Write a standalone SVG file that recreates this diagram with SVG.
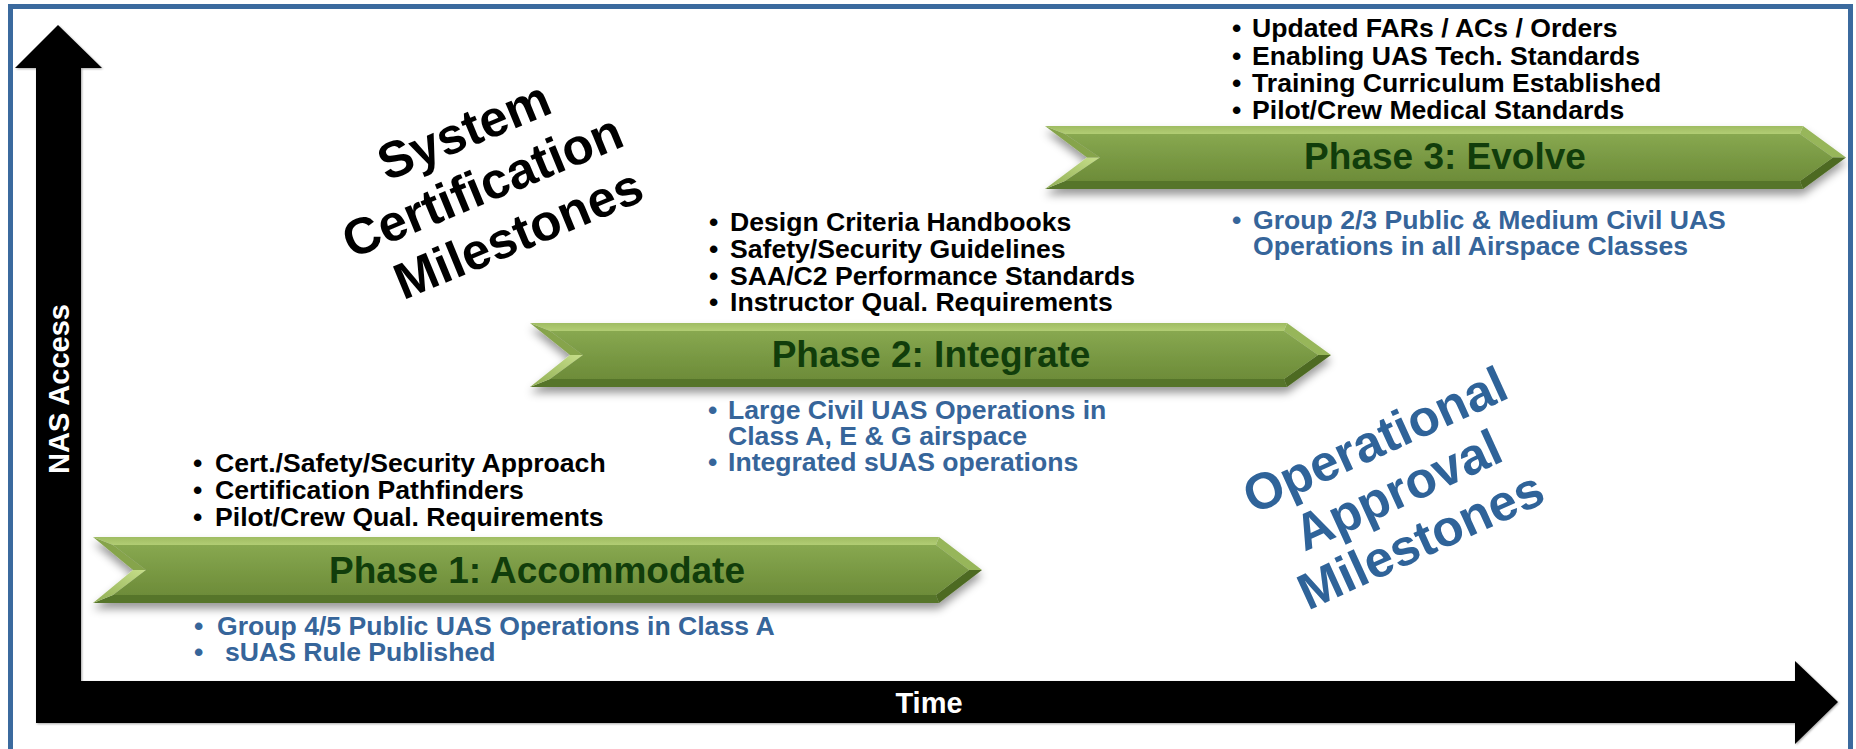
<svg xmlns="http://www.w3.org/2000/svg" width="1856" height="749" viewBox="0 0 1856 749">
<defs>
<style>
.blk{font-family:"Liberation Sans",Arial,sans-serif;font-weight:bold;font-size:26.6px;fill:#000}
.blu{font-family:"Liberation Sans",Arial,sans-serif;font-weight:bold;font-size:26.6px;fill:#36659a}
.ph{font-family:"Liberation Sans",Arial,sans-serif;font-weight:bold;font-size:37px;fill:#113d0b;text-anchor:middle}
.big{font-family:"Liberation Sans",Arial,sans-serif;font-weight:bold;font-size:51px;text-anchor:middle}
.ax{font-family:"Liberation Sans",Arial,sans-serif;font-weight:bold;font-size:29px;fill:#fff;text-anchor:middle}
.face{fill:url(#gFace)}
.bt{fill:url(#gTop)}
.bb{fill:#56752a}
.bru{fill:#97b65a}
.brd{fill:#4d6a22}
.bld{fill:url(#gLD)}
.blu2{fill:#86a44c}
</style>
<linearGradient id="gFace" x1="0" y1="0" x2="0" y2="1">
<stop offset="0" stop-color="#88a850"/>
<stop offset="0.45" stop-color="#7b9b45"/>
<stop offset="1" stop-color="#6d8c39"/>
</linearGradient>
<linearGradient id="gTop" x1="0" y1="0" x2="0" y2="1">
<stop offset="0" stop-color="#9fbc62"/>
<stop offset="1" stop-color="#b2cd74"/>
</linearGradient>
<linearGradient id="gLD" x1="1" y1="0" x2="0" y2="1">
<stop offset="0" stop-color="#c6de8a"/>
<stop offset="1" stop-color="#8fad52"/>
</linearGradient>
<filter id="sh" x="-5%" y="-30%" width="110%" height="170%">
<feDropShadow dx="0" dy="6" stdDeviation="4" flood-color="#000" flood-opacity="0.4"/>
</filter>
<filter id="ash" x="-5%" y="-5%" width="110%" height="110%">
<feDropShadow dx="1" dy="1" stdDeviation="0.8" flood-color="#000" flood-opacity="0.35"/>
</filter>
</defs>
<rect width="1856" height="749" fill="#fff"/>
<path d="M10.5,760 V6.5 H1850.5 V760" fill="none" stroke="#3b6a9e" stroke-width="5"/>

<g id="axes" filter="url(#ash)">
<polygon points="36,722 36,68 15,68 58,25 102,68 81,68 81,681 36,681" fill="#000"/>
<polygon points="36,681 1795,681 1795,661 1838,702 1795,744 1795,723 36,723" fill="#000"/>
</g>
<g id="axis-labels">
<text class="ax" transform="translate(69,389) rotate(-90)">NAS Access</text>
<text class="ax" x="929" y="713">Time</text>
</g>

<g id="phase1">
<g filter="url(#sh)">
<polygon class="bt" points="93,537 939,537 936,545 113,545"/>
<polygon class="bru" points="939,537 982,570 969,570 936,545"/>
<polygon class="brd" points="982,570 939,603 936,595 969,570"/>
<polygon class="bb" points="939,603 93,603 113,595 936,595"/>
<polygon class="bld" points="93,603 133,570 146,570 113,595"/>
<polygon class="blu2" points="133,570 93,537 113,545 146,570"/>
<polygon class="face" points="113,545 936,545 969,570 936,595 113,595 146,570"/>
</g>
<text class="ph" x="537" y="583">Phase 1: Accommodate</text>
</g>

<g id="phase2">
<g filter="url(#sh)">
<polygon class="bt" points="530,323 1287,323 1284,331 550,331"/>
<polygon class="bru" points="1287,323 1331,355 1318,355 1284,331"/>
<polygon class="brd" points="1331,355 1287,387 1284,379 1318,355"/>
<polygon class="bb" points="1287,387 530,387 550,379 1284,379"/>
<polygon class="bld" points="530,387 570,355 583,355 550,379"/>
<polygon class="blu2" points="570,355 530,323 550,331 583,355"/>
<polygon class="face" points="550,331 1284,331 1318,355 1284,379 550,379 583,355"/>
</g>
<text class="ph" x="931" y="367">Phase 2: Integrate</text>
</g>

<g id="phase3">
<g filter="url(#sh)">
<polygon class="bt" points="1045,126 1803,126 1800,134 1065,134"/>
<polygon class="bru" points="1803,126 1846,157.5 1833,157.5 1800,134"/>
<polygon class="brd" points="1846,157.5 1803,189 1800,181 1833,157.5"/>
<polygon class="bb" points="1803,189 1045,189 1065,181 1800,181"/>
<polygon class="bld" points="1045,189 1087,157.5 1100,157.5 1065,181"/>
<polygon class="blu2" points="1087,157.5 1045,126 1065,134 1100,157.5"/>
<polygon class="face" points="1065,134 1800,134 1833,157.5 1800,181 1065,181 1100,157.5"/>
</g>
<text class="ph" x="1445" y="169">Phase 3: Evolve</text>
</g>

<g id="phase1-cert">
<text class="blk" x="193" y="472">•</text><text class="blk" x="215" y="472">Cert./Safety/Security Approach</text>
<text class="blk" x="193" y="499">•</text><text class="blk" x="215" y="499">Certification Pathfinders</text>
<text class="blk" x="193" y="526">•</text><text class="blk" x="215" y="526">Pilot/Crew Qual. Requirements</text>
</g>
<g id="phase1-ops">
<text class="blu" x="194" y="635">•</text><text class="blu" x="217" y="635">Group 4/5 Public UAS Operations in Class A</text>
<text class="blu" x="194" y="661">•</text><text class="blu" x="225" y="661">sUAS Rule Published</text>
</g>

<g id="phase2-cert">
<text class="blk" x="709" y="231">•</text><text class="blk" x="730" y="231">Design Criteria Handbooks</text>
<text class="blk" x="709" y="258">•</text><text class="blk" x="730" y="258">Safety/Security Guidelines</text>
<text class="blk" x="709" y="285">•</text><text class="blk" x="730" y="285">SAA/C2 Performance Standards</text>
<text class="blk" x="709" y="311">•</text><text class="blk" x="730" y="311">Instructor Qual. Requirements</text>
</g>
<g id="phase2-ops">
<text class="blu" x="708" y="419">•</text><text class="blu" x="728" y="419">Large Civil UAS Operations in</text>
<text class="blu" x="728" y="445">Class A, E &amp; G airspace</text>
<text class="blu" x="708" y="471">•</text><text class="blu" x="728" y="471">Integrated sUAS operations</text>
</g>

<g id="phase3-cert">
<text class="blk" x="1232" y="37">•</text><text class="blk" x="1252" y="37">Updated FARs / ACs / Orders</text>
<text class="blk" x="1232" y="65">•</text><text class="blk" x="1252" y="65">Enabling UAS Tech. Standards</text>
<text class="blk" x="1232" y="92">•</text><text class="blk" x="1252" y="92">Training Curriculum Established</text>
<text class="blk" x="1232" y="119">•</text><text class="blk" x="1252" y="119">Pilot/Crew Medical Standards</text>
</g>
<g id="phase3-ops">
<text class="blu" x="1232" y="229">•</text><text class="blu" x="1253" y="229">Group 2/3 Public &amp; Medium Civil UAS</text>
<text class="blu" x="1253" y="255">Operations in all Airspace Classes</text>
</g>

<g id="system-cert-label" transform="translate(489,202) rotate(-22.5)">
<text class="big" x="4" y="-58" fill="#000">System</text>
<text class="big" x="0" y="0" fill="#000">Certification</text>
<text class="big" x="15" y="58" fill="#000">Milestones</text>
</g>
<g id="ops-approval-label" transform="translate(1405,506) rotate(-24.5)">
<text class="big" x="0" y="-55" fill="#2f6399">Operational</text>
<text class="big" x="0" y="0" fill="#2f6399">Approval</text>
<text class="big" x="0" y="55" fill="#2f6399">Milestones</text>
</g>
</svg>
